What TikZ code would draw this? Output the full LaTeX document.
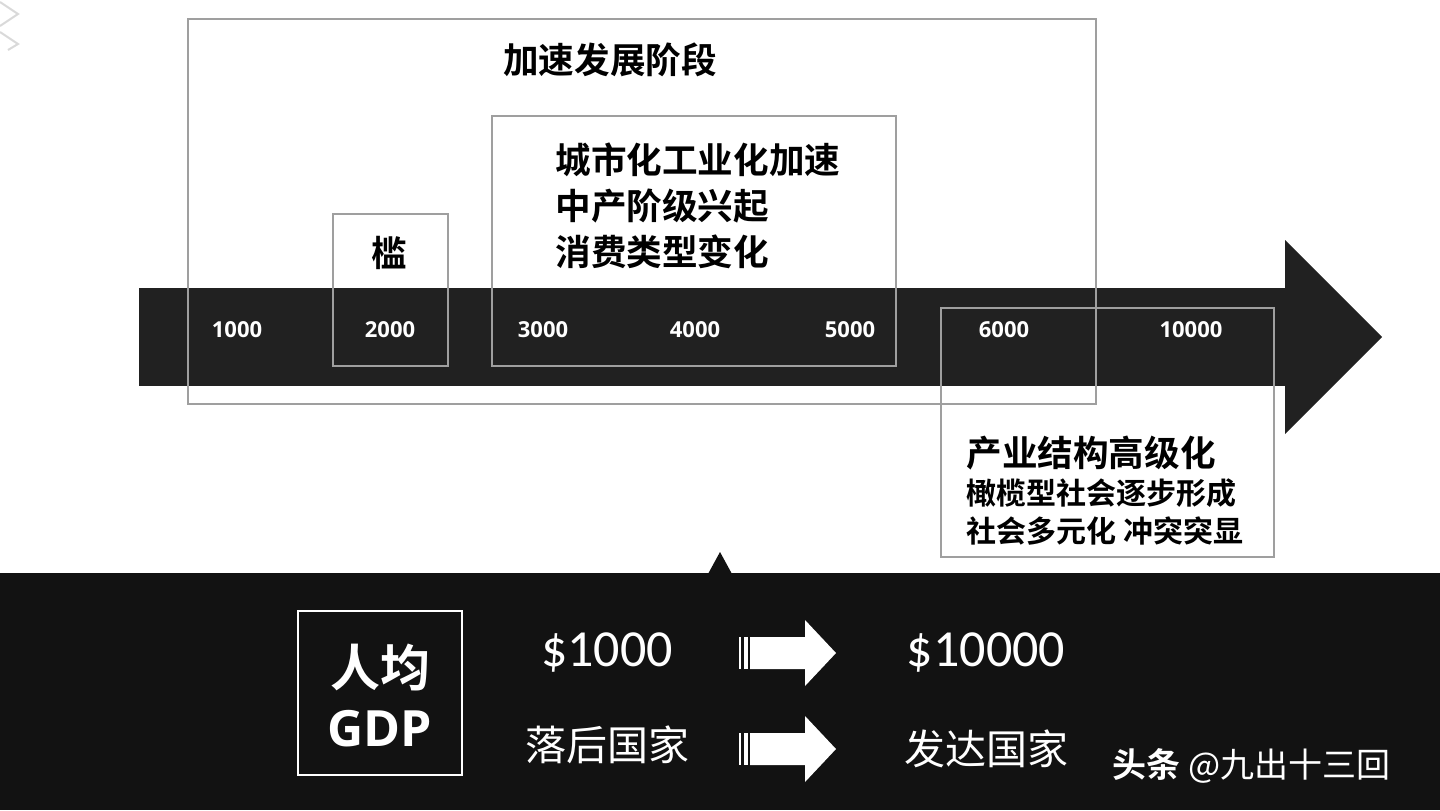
\documentclass[tikz,border=0pt]{standalone}
\usepackage{fontspec}
\newfontfamily\cjk{Noto Sans CJK SC}
\newfontfamily\cjkb{Noto Sans CJK SC Bold}
\setmainfont{Carlito}
\begin{document}
\begin{tikzpicture}[x=0.5pt,y=-0.5pt,
  gbox/.style={draw=gray!75,line width=1.2pt},
  num/.style={text=white,font=\fontsize{11}{13}\selectfont\bfseries\sffamily\fontspec{Open Sans}},
  hd/.style={font=\cjkb\fontsize{17.8}{23}\selectfont,align=left,inner sep=0},
  wt/.style={text=white,inner sep=0},
  warr/.style={fill=white,draw=none}]
\useasboundingbox (0,0) rectangle (1440,810);
\draw[gray!30,line width=1pt] (0,2)--(18,14)--(0,26) (0,32)--(18,44)--(8,50);
% timeline arrow
\fill[black!87] (139,288) rectangle (1285,386);
\fill[black!87] (1285,240)--(1382,337)--(1285,434)--cycle;
% boxes
\draw[gbox] (188,19) rectangle (1096,404);
\draw[gbox] (333,214) rectangle (448,366);
\draw[gbox] (492,116) rectangle (896,366);
\draw[gbox] (941,308) rectangle (1274,557);
\node[hd] (t1) at (610,60) {加速发展阶段};
\node[hd,anchor=north west] (t2) at (555,142) {城市化工业化加速\\中产阶级兴起\\消费类型变化};
\node[hd] (t3) at (389,253) {槛};
\node[hd,anchor=north west] (t4) at (966,436) {产业结构高级化\\[-4pt]{\fontsize{15}{19}\selectfont 橄榄型社会逐步形成}\\[-4pt]{\fontsize{15}{19}\selectfont 社会多元化 冲突突显}};
\foreach \x/\t [count=\i] in {237/1000,390/2000,543/3000,695/4000,850/5000,1004/6000,1191/10000}
  \node[num] (n\i) at (\x,330) {\t};
% bottom band
\fill[black!93] (0,573) rectangle (1440,810);
\fill[black!93] (708,574)--(720,552)--(732,574)--cycle;
\draw[white,line width=1.2pt] (298,611) rectangle (462,775);
\node[wt,align=center,font=\cjkb\fontsize{25}{30}\selectfont] (g) at (380,695) {人均\\{\fontspec{Open Sans}\bfseries GDP}};
\node[wt,font=\fontsize{26}{30}\selectfont] (a1) at (607,653) {\$1000};
\node[wt,font=\fontsize{26}{30}\selectfont] (a2) at (986,653) {\$10000};
\node[wt,font=\cjk\fontsize{20.5}{24}\selectfont] (b1) at (607,745) {落后国家};
\node[wt,font=\cjk\fontsize{20.5}{24}\selectfont] (b2) at (986,749) {发达国家};
\foreach \c in {653,749}{
  \fill[white] (739,\c-16) rectangle (741,\c+16);
  \fill[white] (744,\c-16) rectangle (748,\c+16);
  \fill[warr] (750,\c-16)--(805,\c-16)--(805,\c-33)--(836,\c)--(805,\c+33)--(805,\c+16)--(750,\c+16)--cycle;
}
\node[wt,font=\cjkb\fontsize{17}{20}\selectfont,anchor=west] (w) at (1112,766) {头条 {\cjk @九出十三回}};
\end{tikzpicture}
\end{document}
